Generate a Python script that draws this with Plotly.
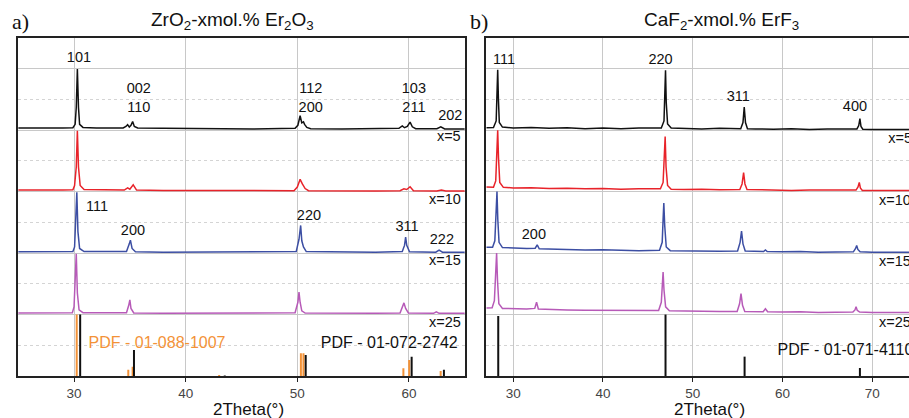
import plotly.graph_objects as go

# ---------------- data: panel a (ZrO2 - x mol.% Er2O3) ----------------
a_offsets = [8.04, 6.0, 4.0, 2.0]
a_names = ["x=5", "x=10", "x=15", "x=25"]

a5_x = [25.0, 27.0, 29.0, 29.9, 30.1, 30.2, 30.3, 30.4, 30.5, 30.8, 32.0, 34.4, 34.65, 34.8, 34.95, 35.1, 35.25, 35.4, 35.7, 38.0, 42.0, 46.0, 49.8, 50.05, 50.25, 50.4, 50.55, 50.65, 50.85, 51.2, 54.0, 57.0, 59.1, 59.4, 59.6, 59.85, 60.1, 60.3, 60.6, 62.5, 62.85, 63.2, 65.0]
a5_y = [0.03, 0.02, 0.03, 0.04, 0.15, 0.7, 1.95, 0.7, 0.15, 0.05, 0.03, 0.03, 0.08, 0.14, 0.06, 0.12, 0.24, 0.08, 0.03, 0.02, 0.01, 0.0, 0.02, 0.12, 0.43, 0.2, 0.23, 0.15, 0.05, 0.01, 0.0, 0.0, 0.02, 0.1, 0.04, 0.08, 0.22, 0.07, 0.01, 0.01, 0.07, 0.0, 0.0]

a10_x = [25, 27, 29, 29.9, 30.05, 30.2, 30.3, 30.4, 30.55, 30.9, 33, 34.5, 34.8, 35.0, 35.3, 35.6, 38, 42, 46, 49.7, 50.0, 50.25, 50.45, 50.7, 51.0, 54, 57, 59.2, 59.55, 59.8, 60.1, 60.4, 62.5, 62.9, 63.3, 65]
a10_y = [0.05, 0.04, 0.05, 0.06, 0.2, 0.8, 1.98, 0.8, 0.2, 0.07, 0.05, 0.05, 0.12, 0.08, 0.22, 0.05, 0.04, 0.03, 0.02, 0.03, 0.15, 0.4, 0.25, 0.1, 0.03, 0.02, 0.02, 0.03, 0.09, 0.07, 0.16, 0.03, 0.02, 0.05, 0.02, 0.02]

a15_x = [25, 27, 29, 29.9, 30.05, 30.15, 30.25, 30.35, 30.5, 30.9, 33, 34.7, 34.95, 35.05, 35.2, 35.5, 38, 42, 46, 49.9, 50.15, 50.3, 50.4, 50.55, 50.8, 54, 57, 59.4, 59.6, 59.7, 59.8, 60.05, 62.4, 62.7, 63.0, 65]
a15_y = [0.04, 0.04, 0.04, 0.05, 0.2, 0.9, 1.98, 0.7, 0.15, 0.05, 0.04, 0.05, 0.3, 0.42, 0.15, 0.04, 0.03, 0.03, 0.03, 0.05, 0.45, 0.9, 0.4, 0.2, 0.05, 0.03, 0.03, 0.05, 0.25, 0.52, 0.25, 0.04, 0.03, 0.1, 0.03, 0.03]

a25_x = [25, 27, 29, 29.85, 30.0, 30.1, 30.2, 30.3, 30.45, 30.8, 33, 34.7, 34.9, 35.0, 35.1, 35.35, 38, 42, 46, 49.8, 50.05, 50.15, 50.25, 50.4, 50.7, 54, 57, 59.2, 59.45, 59.55, 59.7, 59.95, 62.2, 62.45, 62.7, 65]
a25_y = [0.05, 0.05, 0.05, 0.06, 0.25, 0.9, 1.98, 0.7, 0.15, 0.06, 0.05, 0.06, 0.3, 0.48, 0.2, 0.05, 0.04, 0.04, 0.04, 0.06, 0.4, 0.73, 0.4, 0.12, 0.05, 0.04, 0.04, 0.05, 0.25, 0.38, 0.2, 0.05, 0.04, 0.09, 0.04, 0.04]

# reference patterns (panel a)
pdf_or_pos = [30.24, 34.86, 35.25, 43.0, 50.32, 50.55, 59.5, 60.02, 62.84]
pdf_or_h = [2.0, 0.2, 0.3, 0.03, 0.74, 0.74, 0.25, 0.52, 0.16]
pdf_bk_pos = [30.55, 35.37, 43.5, 50.75, 60.24, 63.13]
pdf_bk_h = [2.0, 0.85, 0.02, 0.68, 0.63, 0.2]

# ---------------- data: panel b (CaF2 - x mol.% ErF3) ----------------
b_offsets = [8.0, 6.0, 4.0, 2.0]

b5_x = [27, 27.8, 28.1, 28.2, 28.27, 28.35, 28.45, 28.8, 30, 32, 34, 36, 38, 40, 42, 44, 46.5, 46.8, 46.9, 46.97, 47.05, 47.2, 47.6, 49, 51, 53, 55.35, 55.6, 55.74, 55.88, 56.1, 57, 59, 61, 63, 65, 67, 68.3, 68.5, 68.63, 68.75, 68.95, 70, 72, 74.1]
b5_y = [0.08, 0.09, 0.3, 1.0, 1.97, 1.0, 0.25, 0.1, 0.07, 0.09, 0.06, 0.08, 0.05, 0.07, 0.05, 0.07, 0.07, 0.3, 1.1, 1.95, 0.9, 0.2, 0.07, 0.05, 0.04, 0.06, 0.05, 0.25, 0.75, 0.25, 0.05, 0.04, 0.03, 0.05, 0.02, 0.04, 0.03, 0.04, 0.15, 0.38, 0.12, 0.03, 0.02, 0.03, 0.02]

b10_x = [27, 27.8, 28.05, 28.18, 28.27, 28.36, 28.5, 28.9, 30, 32, 34, 36, 38, 40, 42, 44, 46.4, 46.7, 46.83, 46.93, 47.03, 47.2, 47.6, 49, 51, 53, 55.25, 55.5, 55.67, 55.82, 56.05, 57, 59, 61, 63, 65, 67, 68.2, 68.42, 68.56, 68.68, 68.9, 70, 72, 74.1]
b10_y = [0.15, 0.14, 0.35, 1.1, 2.0, 1.1, 0.3, 0.14, 0.12, 0.13, 0.1, 0.11, 0.09, 0.1, 0.08, 0.09, 0.09, 0.3, 1.0, 1.79, 0.8, 0.2, 0.08, 0.07, 0.08, 0.06, 0.07, 0.25, 0.62, 0.25, 0.07, 0.06, 0.06, 0.04, 0.05, 0.04, 0.05, 0.05, 0.15, 0.3, 0.12, 0.04, 0.04, 0.03, 0.04]

b15_x = [27, 27.7, 27.95, 28.1, 28.19, 28.28, 28.42, 28.8, 30, 31.5, 32.45, 32.67, 32.9, 34, 36, 38, 40, 42, 44, 46.3, 46.6, 46.7, 46.78, 46.88, 47.05, 47.5, 49, 51, 53, 55.0, 55.28, 55.44, 55.6, 55.85, 57, 57.9, 58.1, 58.3, 60, 62, 64, 66, 67.9, 68.15, 68.27, 68.4, 68.65, 70, 72, 74.1]
b15_y = [0.19, 0.19, 0.4, 1.2, 2.0, 1.1, 0.35, 0.18, 0.16, 0.15, 0.16, 0.27, 0.14, 0.13, 0.12, 0.1, 0.11, 0.09, 0.08, 0.09, 0.35, 1.1, 1.63, 0.9, 0.2, 0.08, 0.07, 0.08, 0.06, 0.07, 0.35, 0.72, 0.3, 0.07, 0.05, 0.05, 0.1, 0.05, 0.04, 0.05, 0.03, 0.04, 0.04, 0.15, 0.25, 0.12, 0.04, 0.03, 0.04, 0.03]

b25_x = [27, 27.65, 27.9, 28.05, 28.15, 28.25, 28.4, 28.8, 30, 31.5, 32.4, 32.6, 32.8, 34, 36, 38, 40, 42, 44, 46.2, 46.5, 46.62, 46.7, 46.8, 46.98, 47.4, 49, 51, 53, 54.95, 55.22, 55.38, 55.55, 55.8, 57, 57.85, 58.1, 58.35, 60, 62, 64, 66, 67.85, 68.08, 68.2, 68.33, 68.6, 70, 72, 74.1]
b25_y = [0.21, 0.22, 0.45, 1.2, 2.0, 1.1, 0.35, 0.2, 0.19, 0.18, 0.2, 0.4, 0.18, 0.16, 0.15, 0.14, 0.14, 0.12, 0.12, 0.13, 0.4, 1.0, 1.38, 0.8, 0.25, 0.12, 0.11, 0.1, 0.1, 0.1, 0.35, 0.68, 0.3, 0.1, 0.09, 0.09, 0.19, 0.09, 0.08, 0.09, 0.07, 0.08, 0.08, 0.15, 0.25, 0.14, 0.08, 0.07, 0.08, 0.07]

pdf_b_pos = [28.33, 46.97, 55.78, 68.63]
pdf_b_h = [1.95, 2.0, 0.63, 0.26]

# hkl labels
a_hkl = ["101", "002", "110", "112", "200", "103", "211", "202"]
a_hkl_x = [30.44, 35.8, 35.8, 51.2, 51.2, 60.44, 60.44, 63.7]
a_hkl_y = [10.35, 9.34, 8.72, 9.34, 8.72, 9.34, 8.72, 8.46]
a_cub = ["111", "200", "220", "311", "222"]
a_cub_x = [32.06, 35.28, 51.04, 59.82, 62.95]
a_cub_y = [5.5, 4.72, 5.21, 4.85, 4.43]
b_hkl = ["111", "220", "311", "400", "200"]
b_hkl_x = [28.97, 46.41, 55.08, 68.08, 32.3]
b_hkl_y = [10.28, 10.28, 9.08, 8.75, 4.59]

colors = ["#111111", "#e8232a", "#3c4ea3", "#b75ab8"]
ORANGE = "#f39237"
FONT = "Liberation Sans, Arial, sans-serif"
SERIF = "Liberation Serif, Times New Roman, serif"

W, H = 909, 418
TOP, BOT = 38, 376

fig = go.Figure()

def curves(xs_list, ys_list, offsets, xa, ya):
    for xs, ys, off, c in zip(xs_list, ys_list, offsets, colors):
        fig.add_trace(go.Scatter(x=xs, y=[v + off for v in ys], mode="lines",
                                 line=dict(color=c, width=1.5), xaxis=xa, yaxis=ya,
                                 showlegend=False, hoverinfo="skip"))

def sticks(pos, h, color, xa, ya):
    xs, ys = [], []
    for p, v in zip(pos, h):
        xs += [p, p, None]
        ys += [0, v, None]
    fig.add_trace(go.Scatter(x=xs, y=ys, mode="lines", line=dict(color=color, width=2),
                             xaxis=xa, yaxis=ya, showlegend=False, hoverinfo="skip"))

def texts(xs, ys, labels, xa, ya, pos="middle center", color="#111", size=14.5):
    fig.add_trace(go.Scatter(x=xs, y=ys, text=labels, mode="text", textposition=pos,
                             textfont=dict(family=FONT, size=size, color=color),
                             cliponaxis=True, xaxis=xa, yaxis=ya, showlegend=False,
                             hoverinfo="skip"))

curves([a5_x, a10_x, a15_x, a25_x], [a5_y, a10_y, a15_y, a25_y], a_offsets, "x", "y")
sticks(pdf_or_pos, pdf_or_h, ORANGE, "x", "y")
sticks(pdf_bk_pos, pdf_bk_h, "#111111", "x", "y")
texts(a_hkl_x, a_hkl_y, a_hkl, "x", "y")
texts(a_cub_x, a_cub_y, a_cub, "x", "y")
texts([62.5, 61.8, 61.8, 61.8], [7.75, 5.73, 3.72, 1.72], a_names, "x", "y", pos="middle right")
texts([31.3], [1.04], ["PDF - 01-088-1007"], "x", "y", pos="middle right", color=ORANGE, size=16)
texts([52.1], [1.04], ["PDF - 01-072-2742"], "x", "y", pos="middle right", size=16)

curves([b5_x, b10_x, b15_x, b25_x], [b5_y, b10_y, b15_y, b25_y], b_offsets, "x2", "y2")
sticks(pdf_b_pos, pdf_b_h, "#111111", "x2", "y2")
texts(b_hkl_x, b_hkl_y, b_hkl, "x2", "y2")
texts([71.8, 70.75, 70.75, 70.75], [7.7, 5.67, 3.69, 1.72], a_names, "x2", "y2", pos="middle right")
texts([59.45], [0.81], ["PDF - 01-071-4110"], "x2", "y2", pos="middle right", size=16)

GRID = "#c8c8c8"
xcommon = dict(showgrid=True, gridcolor=GRID, gridwidth=1, ticks="outside", ticklen=4,
               tickcolor="#222", tickwidth=1, showline=True, linecolor="#222", linewidth=2,
               mirror=True, zeroline=False, tickfont=dict(family=FONT, size=13.5, color="#444"))
ycommon = dict(range=[0, 11], tickvals=[2, 4, 6, 8, 10], showticklabels=False, ticks="",
               showgrid=True, gridcolor=GRID, gridwidth=1, zeroline=False,
               showline=True, linecolor="#222", linewidth=2,
               minor=dict(tickvals=[1, 3, 5, 7, 9], showgrid=True, griddash="dot",
                          gridcolor="#d4d4d4", gridwidth=1, ticks=""))

fig.update_layout(
    width=W, height=H, margin=dict(l=0, r=0, t=TOP, b=H - BOT),
    paper_bgcolor="white", plot_bgcolor="white",
    xaxis=dict(domain=[18.2 / W, 464.8 / W], range=[25, 65], tickvals=[30, 40, 50, 60], **xcommon),
    yaxis=dict(domain=[0, 1], anchor="x", mirror=True, **ycommon),
    xaxis2=dict(domain=[486.3 / W, 1], range=[27, 74.1], tickvals=[30, 40, 50, 60, 70],
                anchor="y2", **xcommon),
    yaxis2=dict(domain=[0, 1], anchor="x2", mirror=False, **ycommon),
)

ph = BOT - TOP
def py(ypix):
    return (BOT - ypix) / ph

anns = [
    dict(text="ZrO<sub>2</sub>-xmol.% Er<sub>2</sub>O<sub>3</sub>", x=233 / W, y=py(21),
         font=dict(family=FONT, size=19, color="#111")),
    dict(text="CaF<sub>2</sub>-xmol.% ErF<sub>3</sub>", x=721 / W, y=py(21),
         font=dict(family=FONT, size=19, color="#111")),
    dict(text="a)", x=20 / W, y=py(21), font=dict(family=SERIF, size=22, color="#111")),
    dict(text="b)", x=479 / W, y=py(21), font=dict(family=SERIF, size=22, color="#111")),
    dict(text="2Theta(°)", x=249 / W, y=py(409), font=dict(family=FONT, size=17, color="#111")),
    dict(text="2Theta(°)", x=709 / W, y=py(409), font=dict(family=FONT, size=17, color="#111")),
]
for a in anns:
    fig.add_annotation(xref="paper", yref="paper", showarrow=False,
                       xanchor="center", yanchor="middle", **a)

fig.write_html("out.html", config={"displayModeBar": False},
               post_script="document.body.style.margin='0';document.body.style.overflow='hidden';")
